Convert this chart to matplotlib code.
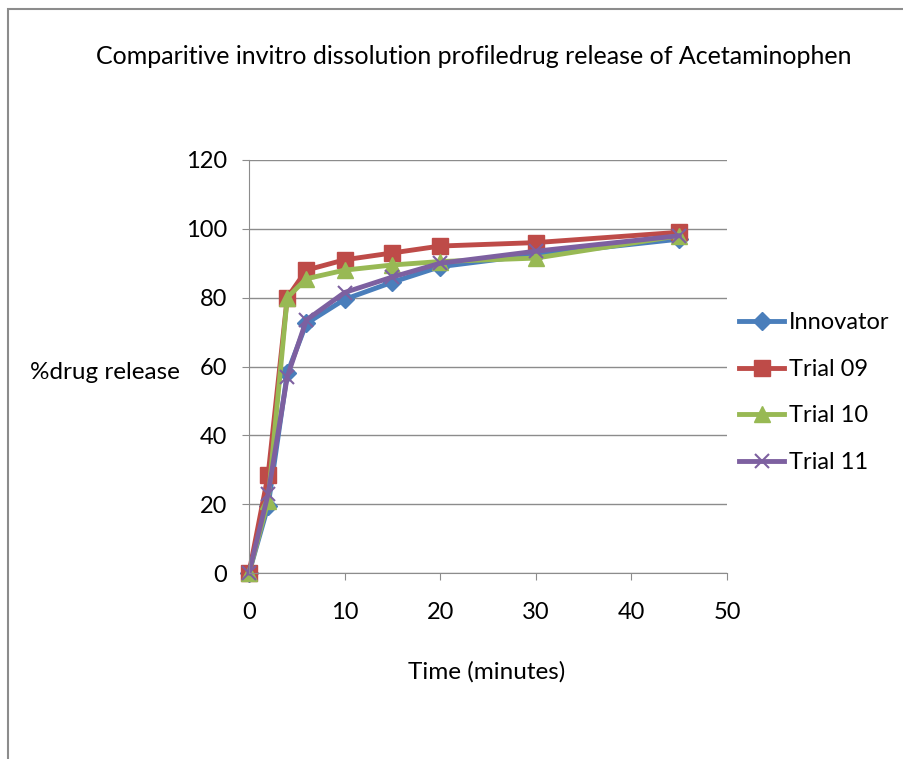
import matplotlib
matplotlib.use('Agg')
import matplotlib.pyplot as plt
from matplotlib.patches import Rectangle

plt.rcParams['font.family'] = ['Lato', 'DejaVu Sans']

# time points (minutes)
time_min = [0, 2, 4, 6, 10, 15, 20, 30, 45]

# % drug release
innovator = [0, 19.5, 58, 72.5, 79.5, 84.5, 89, 92.5, 97]
trial09 = [0, 28.5, 80, 88, 91, 93, 95, 96, 99]
trial10 = [0, 21, 80, 85.5, 88, 89.5, 90.5, 91.5, 98]
trial11 = [0, 23, 57, 73.5, 81.5, 86, 90, 93.5, 98]

series_names = ['Innovator', 'Trial 09', 'Trial 10', 'Trial 11']

fig = plt.figure(figsize=(9.04, 7.59), dpi=100)
fig.patches.append(Rectangle((8/904, -0.1), 1.2, 1 - 9/759 + 0.1, transform=fig.transFigure,
                             fill=False, edgecolor='#8c8c8c', linewidth=1.5))

ax = fig.add_axes([249/904, 1 - 573/759, (727 - 249)/904, (573 - 160)/759])

ax.plot(time_min, innovator, color='#4A7EBB', marker='D', markersize=9, linewidth=3.5,
        label=series_names[0])
ax.plot(time_min, trial09, color='#BE4B48', marker='s', markersize=12, linewidth=3.5,
        label=series_names[1])
ax.plot(time_min, trial10, color='#98B954', marker='^', markersize=12, linewidth=3.5,
        label=series_names[2])
ax.plot(time_min, trial11, color='#7D60A0', marker='x', markersize=10, markeredgewidth=1.5,
        linewidth=3.5, label=series_names[3])

ax.set_xlim(0, 50)
ax.set_ylim(0, 120)
ax.set_xticks(range(0, 51, 10))
ax.set_yticks(range(0, 121, 20))
ax.yaxis.grid(True, color='#8c8c8c', linewidth=1)
ax.set_axisbelow(True)
for s in ['top', 'right']:
    ax.spines[s].set_visible(False)
for s in ['left', 'bottom']:
    ax.spines[s].set_color('#8c8c8c')
ax.tick_params(axis='both', colors='#8c8c8c', labelcolor='black', labelsize=17, length=5)
ax.tick_params(axis='y', pad=11)
ax.tick_params(axis='x', pad=16)
for line in ax.get_lines():
    line.set_clip_on(False)

fig.text(474/904, 1 - 57/759, 'Comparitive invitro dissolution profiledrug release of Acetaminophen',
         ha='center', va='center', fontsize=18)
fig.text(105/904, 1 - 372/759, '%drug release', ha='center', va='center', fontsize=17.5)
fig.text(487/904, 1 - 672/759, 'Time (minutes)', ha='center', va='center', fontsize=17.5)

ax.legend(loc='upper left', bbox_to_anchor=(730/904, 1 - 303/759), bbox_transform=fig.transFigure,
          frameon=False, fontsize=17, handlelength=1.9, handletextpad=0.2, labelspacing=1.08,
          borderaxespad=0)

fig.savefig('out.png', dpi=100)
